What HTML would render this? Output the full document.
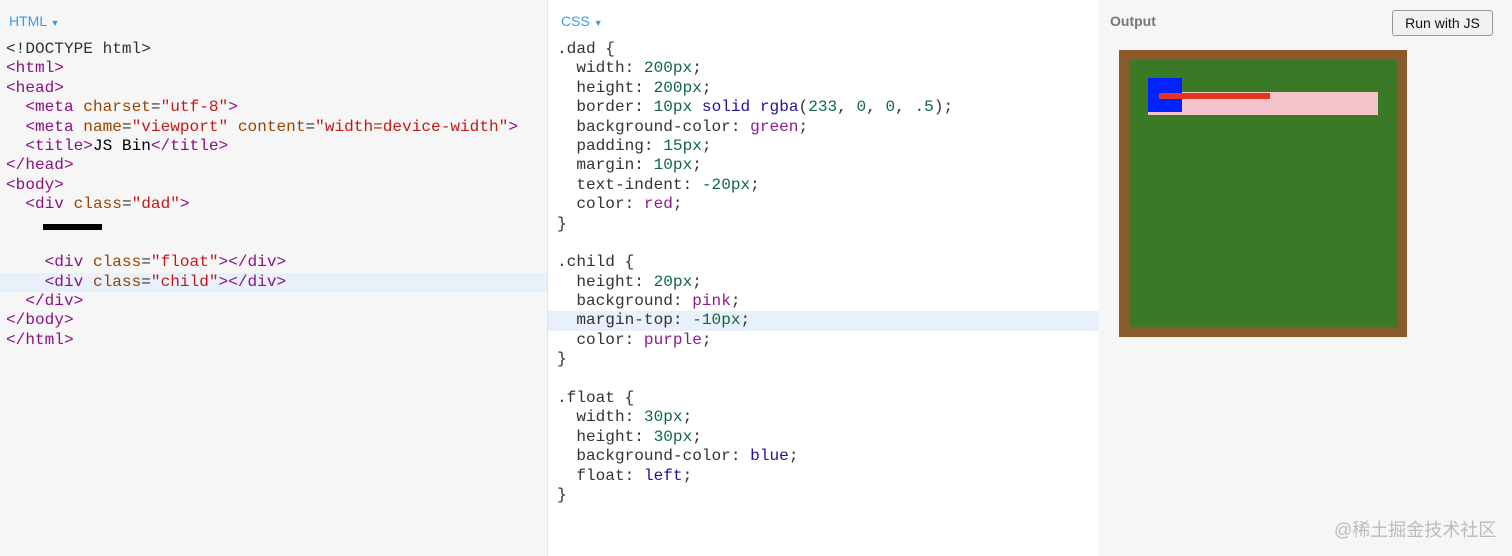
<!DOCTYPE html>
<html><head><meta charset="utf-8"><style>
html,body{margin:0;width:1512px;height:556px;overflow:hidden}
body{background:#f6f6f6;position:relative;font-family:"Liberation Sans",sans-serif}
.pane{position:absolute;top:0;height:556px;overflow:hidden}
.code{position:absolute;top:40px;left:0;right:0;font-family:"Liberation Mono",monospace;font-size:16.1px;line-height:19.4px;color:#333}
.code div{padding-left:6px;height:19.4px;white-space:pre}
.t{color:#881280}.a{color:#994500}.s{color:#c41a16}.n{color:#116644}.k{color:#221199}.v{color:#8e1a8a}
.hl{background:#e8f0fb}
.lab{position:absolute;top:13px;font-size:14px;color:#3a9ae8}
</style></head><body>
<div class="pane" style="left:0;width:547px;background:#f6f6f6">
<div class="lab" style="left:9px">HTML <span style="font-size:9px">▼</span></div>
<div class="code"><div>&lt;!DOCTYPE html&gt;</div><div><span class="t">&lt;html&gt;</span></div><div><span class="t">&lt;head&gt;</span></div><div>  <span class="t">&lt;meta</span> <span class="a">charset</span>=<span class="s">"utf-8"</span><span class="t">&gt;</span></div><div>  <span class="t">&lt;meta</span> <span class="a">name</span>=<span class="s">"viewport"</span> <span class="a">content</span>=<span class="s">"width=device-width"</span><span class="t">&gt;</span></div><div>  <span class="t">&lt;title&gt;</span><span style="color:#000">JS Bin</span><span class="t">&lt;/title&gt;</span></div><div><span class="t">&lt;/head&gt;</span></div><div><span class="t">&lt;body&gt;</span></div><div>  <span class="t">&lt;div</span> <span class="a">class</span>=<span class="s">"dad"</span><span class="t">&gt;</span></div><div style="height:38.8px;position:relative"><span style="position:absolute;left:43px;top:9px;width:59px;height:6px;background:#000"></span></div><div>    <span class="t">&lt;div</span> <span class="a">class</span>=<span class="s">"float"</span><span class="t">&gt;&lt;/div&gt;</span></div><div class="hl">    <span class="t">&lt;div</span> <span class="a">class</span>=<span class="s">"child"</span><span class="t">&gt;&lt;/div&gt;</span></div><div>  <span class="t">&lt;/div&gt;</span></div><div><span class="t">&lt;/body&gt;</span></div><div><span class="t">&lt;/html&gt;</span></div></div></div>
<div class="pane" style="left:547px;width:551px;background:#fff;border-left:1px solid #e4e4e4;border-right:1px solid #e4e4e4">
<div class="lab" style="left:13px">CSS <span style="font-size:9px">▼</span></div>
<div class="code" style="left:3px"><div>.dad {</div><div>  width: <span class="n">200px</span>;</div><div>  height: <span class="n">200px</span>;</div><div>  border: <span class="n">10px</span> <span class="k">solid</span> <span class="k">rgba</span>(<span class="n">233</span>, <span class="n">0</span>, <span class="n">0</span>, <span class="n">.5</span>);</div><div>  background-color: <span class="v">green</span>;</div><div>  padding: <span class="n">15px</span>;</div><div>  margin: <span class="n">10px</span>;</div><div>  text-indent: <span class="n">-20px</span>;</div><div>  color: <span class="v">red</span>;</div><div>}</div><div></div><div>.child {</div><div>  height: <span class="n">20px</span>;</div><div>  background: <span class="v">pink</span>;</div><div class="hl" style="margin-left:-3px;padding-left:9px">  margin-top: <span class="n">-10px</span>;</div><div>  color: <span class="v">purple</span>;</div><div>}</div><div></div><div>.float {</div><div>  width: <span class="n">30px</span>;</div><div>  height: <span class="n">30px</span>;</div><div>  background-color: <span class="k">blue</span>;</div><div>  float: <span class="k">left</span>;</div><div>}</div></div></div>
<div class="pane" style="left:1099px;width:413px;background:#f6f6f6">
<div style="position:absolute;left:11px;top:13px;font-size:14px;font-weight:bold;color:#777">Output</div>
<div style="position:absolute;left:293px;top:10px;width:99px;height:24px;border:1px solid #999;border-radius:3px;background:#f2f2f2;font-size:14px;line-height:24px;text-align:center;color:#111">Run with JS</div>
<div style="position:absolute;left:20px;top:50px;width:268px;height:267px;border:10px solid #8a5a28;background:#3a7a26"></div>
<div style="position:absolute;left:49px;top:92px;width:230px;height:23px;background:#f4c4cc"></div>
<div style="position:absolute;left:49px;top:78px;width:34px;height:34px;background:#0022ff"></div>
<div style="position:absolute;left:60px;top:93px;width:111px;height:6px;background:#e8351f"></div>
<div style="position:absolute;left:235px;top:516px;font-size:18px;color:#bbb;font-family:'Liberation Sans','Noto Sans CJK SC',sans-serif">@稀土掘金技术社区</div>
</div>
</body></html>
